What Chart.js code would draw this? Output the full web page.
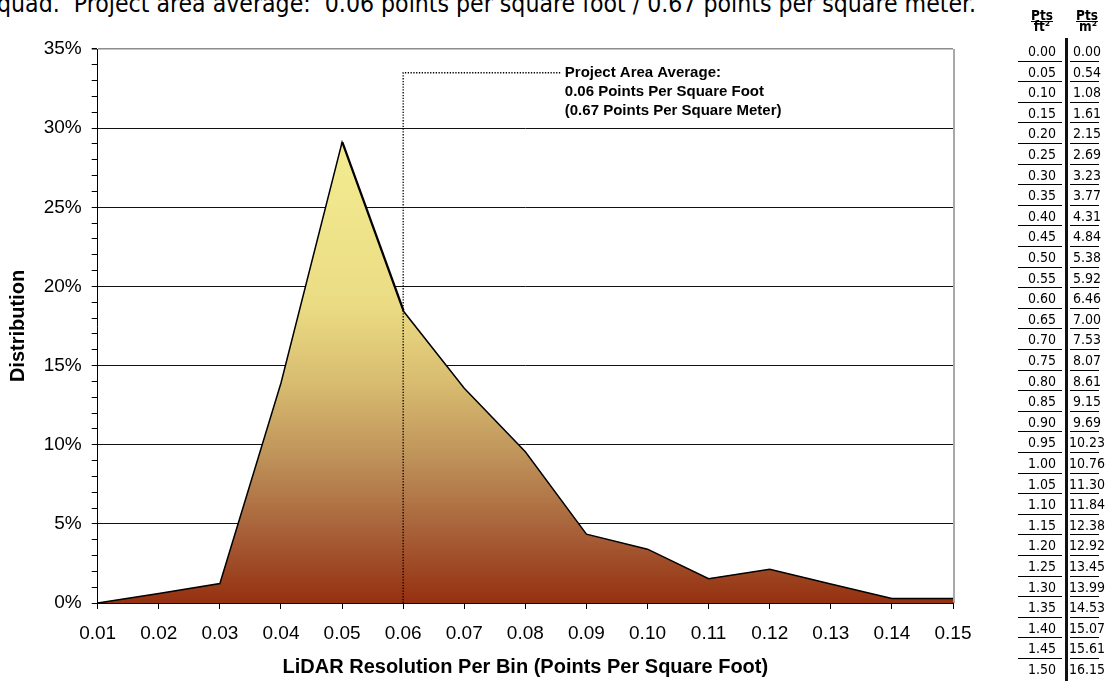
<!DOCTYPE html>
<html>
<head>
<meta charset="utf-8">
<title>LiDAR Resolution Per Bin</title>
<script src="https://cdn.jsdelivr.net/npm/chart.js@4.4.1/dist/chart.umd.min.js"></script>
<style>
  html, body { margin: 0; padding: 0; background: #fff; }
  body { width: 1108px; height: 681px; position: relative; overflow: hidden; }
  #note { position: absolute; left: -3px; top: -8px; font-family: "DejaVu Sans Condensed", "DejaVu Sans", sans-serif;
          font-size: 24.6px; line-height: 24px; white-space: pre; color: #000; }
  #chart { position: absolute; left: 0; top: 0; }
  #conv { position: absolute; left: 0; top: 0; width: 1108px; height: 681px;
          font-family: "DejaVu Sans Condensed", "DejaVu Sans", sans-serif; font-size: 14px; color: #000; }
  .cell { position: absolute; width: 50px; text-align: center; line-height: 14px; }
  .hd { font-weight: bold; line-height: 11px; font-size: 13.5px; }
  .sep { position: absolute; height: 1px; background: #000; }
  .bar { position: absolute; left: 1065px; top: 38px; width: 3px; height: 643px; background: #111; }
</style>
</head>
<body>
<div id="note">quad.  Project area average:  0.06 points per square foot / 0.67 points per square meter.</div>
<canvas id="chart" width="1108" height="681"></canvas>
<div id="conv"><div class="bar"></div></div>

<script>
// chart data
const binLabels = ['0.01', '0.02', '0.03', '0.04', '0.05', '0.06', '0.07', '0.08',
                   '0.09', '0.10', '0.11', '0.12', '0.13', '0.14', '0.15'];
const distribution = [0, 0.006, 0.0123, 0.139, 0.291, 0.1846, 0.1357, 0.0956,
                      0.0435, 0.034, 0.0154, 0.0213, 0.012, 0.0028, 0.0028];
const yMajorStep = 0.05;
const yMax = 0.35;

// annotation
const averageBin = '0.06';
const averageText = ['Project Area Average:', '0.06 Points Per Square Foot', '(0.67 Points Per Square Meter)'];

// conversion table
const ptsPerFt2 = ['0.00', '0.05', '0.10', '0.15', '0.20', '0.25', '0.30', '0.35', '0.40', '0.45', '0.50',
                   '0.55', '0.60', '0.65', '0.70', '0.75', '0.80', '0.85', '0.90', '0.95', '1.00',
                   '1.05', '1.10', '1.15', '1.20', '1.25', '1.30', '1.35', '1.40', '1.45', '1.50'];
const ptsPerM2 = ['0.00', '0.54', '1.08', '1.61', '2.15', '2.69', '3.23', '3.77', '4.31', '4.84', '5.38',
                  '5.92', '6.46', '7.00', '7.53', '8.07', '8.61', '9.15', '9.69', '10.23', '10.76',
                  '11.30', '11.84', '12.38', '12.92', '13.45', '13.99', '14.53', '15.07', '15.61', '16.15'];

const FONT = '"Liberation Sans", Arial, sans-serif';

function isMajor(v) {
  return Math.abs(v / yMajorStep - Math.round(v / yMajorStep)) < 1e-6;
}

// the falling edge right after the peak is drawn heavier in the original
const peakIdx = distribution.indexOf(Math.max(...distribution));
const peakEdge = distribution.map((v, i) => (i === peakIdx || i === peakIdx + 1 ? v : null));

// gradient fill, light yellow at the top to rust at the bottom
function areaFill(context) {
  const chart = context.chart;
  const y = chart.scales.y;
  if (!chart.chartArea || !y) return '#c9a060';
  const g = chart.ctx.createLinearGradient(0, y.getPixelForValue(0.29), 0, y.getPixelForValue(0));
  g.addColorStop(0, '#f3ec91');
  g.addColorStop(0.35, '#ebdc84');
  g.addColorStop(0.52, '#d8bc70');
  g.addColorStop(0.68, '#bf935a');
  g.addColorStop(0.84, '#a8623a');
  g.addColorStop(1, '#953010');
  return g;
}

// dotted average marker + label, and the gray right border of the plot
const averagePlugin = {
  id: 'averageMarker',
  afterDatasetsDraw(chart) {
    const { ctx, chartArea, scales: { x, y } } = chart;
    const idx = binLabels.indexOf(averageBin);
    const px = x.getPixelForValue(idx);
    const py = y.getPixelForValue(0.335);
    const lineEnd = x.getPixelForValue(idx + 2.58);

    ctx.save();
    ctx.strokeStyle = '#8c8c8c';
    ctx.lineWidth = 1.5;
    ctx.beginPath();
    ctx.moveTo(chartArea.right + 1, chartArea.top);
    ctx.lineTo(chartArea.right + 1, chartArea.bottom);
    ctx.stroke();

    ctx.strokeStyle = '#000';
    ctx.lineWidth = 1.3;
    ctx.setLineDash([1.3, 1.5]);
    ctx.beginPath();
    ctx.moveTo(px, y.getPixelForValue(0));
    ctx.lineTo(px, py);
    ctx.lineTo(lineEnd, py);
    ctx.stroke();
    ctx.setLineDash([]);

    ctx.fillStyle = '#000';
    ctx.font = 'bold 15px ' + FONT;
    ctx.textBaseline = 'middle';
    averageText.forEach((t, i) => ctx.fillText(t, lineEnd + 4, py + i * 19));
    ctx.restore();
  }
};

new Chart(document.getElementById('chart'), {
  type: 'line',
  data: {
    labels: binLabels,
    datasets: [{
      data: distribution,
      fill: 'origin',
      backgroundColor: areaFill,
      borderColor: '#000',
      borderWidth: 1.5,
      pointRadius: 0,
      tension: 0
    }, {
      data: peakEdge,
      fill: false,
      borderColor: '#000',
      borderWidth: 3,
      pointRadius: 0,
      tension: 0,
      spanGaps: false
    }]
  },
  options: {
    responsive: false,
    animation: false,
    layout: { padding: { left: 0, top: 49, right: 155, bottom: 0 } },
    plugins: { legend: { display: false }, tooltip: { enabled: false } },
    scales: {
      x: {
        offset: false,
        grid: { drawOnChartArea: false, tickLength: 6, tickColor: '#000' },
        border: { color: '#000', width: 2 },
        ticks: { color: '#000', font: { family: FONT, size: 19 }, padding: 13, maxRotation: 0, autoSkip: false },
        title: {
          display: true,
          text: 'LiDAR Resolution Per Bin (Points Per Square Foot)',
          color: '#000',
          font: { family: FONT, size: 20, weight: 'bold' },
          padding: { top: 0, bottom: 2 }
        },
        afterFit(s) { s.height = 78; }
      },
      y: {
        min: 0,
        max: yMax,
        ticks: {
          stepSize: 0.01,
          autoSkip: false,
          color: '#000',
          padding: 10,
          font: { family: FONT, size: 19 },
          callback: v => (isMajor(v) ? Math.round(v * 100) + '%' : '')
        },
        grid: {
          color: c => {
            const v = c.tick ? c.tick.value : 0;
            if (!isMajor(v)) return 'rgba(0,0,0,0)';
            return v >= yMax - 1e-6 ? '#8c8c8c' : '#111';
          },
          lineWidth: c => (c.tick && c.tick.value >= yMax - 1e-6 ? 1.5 : 1),
          tickColor: '#000',
          tickLength: 6
        },
        border: { color: '#000', width: 1 },
        title: {
          display: true,
          text: 'Distribution',
          color: '#000',
          font: { family: FONT, size: 20, weight: 'bold' },
          padding: { top: 6, bottom: 0 }
        },
        afterFit(s) { s.width = 97.7; }
      }
    }
  },
  plugins: [averagePlugin]
});

// conversion table on the right
const conv = document.getElementById('conv');
function addCell(text, left, top, cls) {
  const d = document.createElement('div');
  d.className = 'cell' + (cls ? ' ' + cls : '');
  d.style.left = left + 'px';
  d.style.top = top + 'px';
  d.innerHTML = text;
  conv.appendChild(d);
}
function addSep(left, top, width) {
  const d = document.createElement('div');
  d.className = 'sep';
  d.style.left = left + 'px';
  d.style.top = top + 'px';
  d.style.width = width + 'px';
  conv.appendChild(d);
}
addCell('<u>Pts</u>', 1017, 10, 'hd');
addCell('ft&sup2;', 1017, 21, 'hd');
addCell('<u>Pts</u>', 1062, 10, 'hd');
addCell('m&sup2;', 1063, 21, 'hd');

const rowTop = 51, rowStep = 20.6;
ptsPerFt2.forEach((v, i) => {
  const cy = rowTop + i * rowStep;
  addCell(v, 1017, Math.round(cy - 7));
  addCell(ptsPerM2[i], 1062, Math.round(cy - 7));
  if (i < ptsPerFt2.length - 1) {
    addSep(1018, Math.round(cy + 9.5), 44);
    addSep(1070, Math.round(cy + 9.5), 29);
  }
});
</script>
</body>
</html>
